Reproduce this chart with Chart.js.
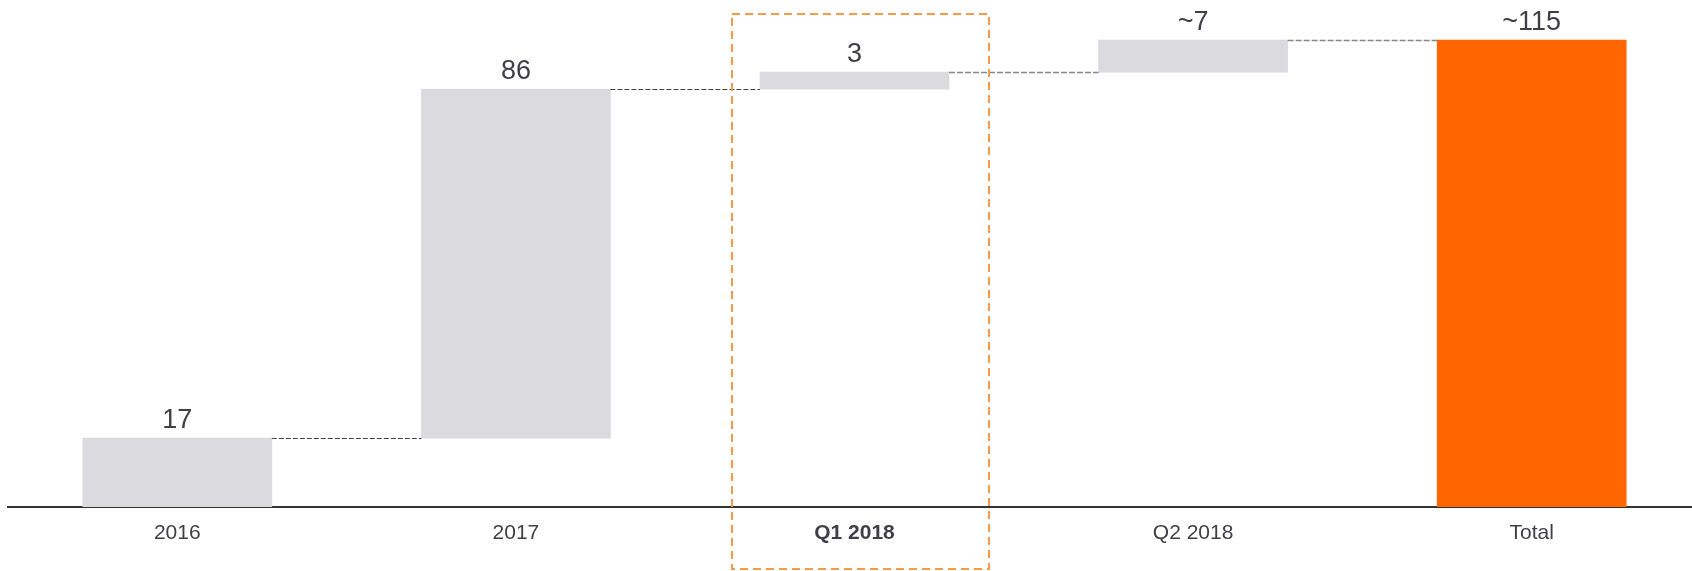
<!DOCTYPE html>
<html>
<head>
<meta charset="utf-8">
<script src="https://cdn.jsdelivr.net/npm/chart.js@4.4.1/dist/chart.umd.min.js"></script>
<style>
  html, body { margin: 0; padding: 0; background: #ffffff; overflow: hidden; }
  #wrap { position: relative; width: 1701px; height: 571px; }
</style>
</head>
<body>
<div id="wrap"><canvas id="c"></canvas></div>
<script>
// ---- data ----
const categories = ['2016', '2017', 'Q1 2018', 'Q2 2018', 'Total'];
const valueLabels = ['17', '86', '3', '~7', '~115'];
const steps = [17, 86, 4.2, 7.9];        // step heights as drawn
const totalValue = 115.1;                 // total bar as drawn
const highlightIndex = 2;                 // boxed category

// build floating bars
const floating = [];
let run = 0;
for (const s of steps) { floating.push([run, run + s]); run += s; }
floating.push([0, totalValue]);

const grey = '#dadadf';
const orange = '#ff6600';
const textColor = '#3f3f48';

const overlayPlugin = {
  id: 'overlay',
  afterDatasetsDraw(chart) {
    const ctx = chart.ctx;
    const meta = chart.getDatasetMeta(0);
    const ys = chart.scales.y;
    const xs = chart.scales.x;
    ctx.save();
    // connectors
    for (let i = 0; i < meta.data.length - 1; i++) {
      const a = meta.data[i], b = meta.data[i + 1];
      const yv = floating[i][1];
      const y = Math.round(ys.getPixelForValue(yv)) + 0.5;
      const x1 = a.x + a.width / 2;
      const x2 = b.x - b.width / 2;
      ctx.beginPath();
      if (i < 2) {
        ctx.strokeStyle = '#404040'; ctx.lineWidth = 1; ctx.setLineDash([5, 2]);
      } else {
        ctx.strokeStyle = '#888888'; ctx.lineWidth = 1.5; ctx.setLineDash([6, 2]);
      }
      ctx.moveTo(x1, y); ctx.lineTo(x2, y); ctx.stroke();
    }
    ctx.setLineDash([]);
    // value labels
    ctx.fillStyle = textColor;
    ctx.font = '27px "Liberation Sans", Arial, sans-serif';
    ctx.textAlign = 'center';
    ctx.textBaseline = 'alphabetic';
    meta.data.forEach((bar, i) => {
      const top = ys.getPixelForValue(floating[i][1]);
      ctx.fillText(valueLabels[i], bar.x, top - 10);
    });
    // highlight box
    const cx = xs.getPixelForValue(highlightIndex);
    ctx.strokeStyle = '#f59a48';
    ctx.lineWidth = 2;
    ctx.setLineDash([8, 5]);
    ctx.strokeRect(cx - 122.5, 14, 257, 555);
    ctx.restore();
  }
};

new Chart(document.getElementById('c'), {
  type: 'bar',
  data: {
    labels: categories,
    datasets: [{
      data: floating,
      backgroundColor: categories.map((c, i) => i === categories.length - 1 ? orange : grey),
      borderWidth: 0,
      borderSkipped: false,
      barThickness: 189,
      categoryPercentage: 1,
      barPercentage: 1
    }]
  },
  options: {
    responsive: true,
    maintainAspectRatio: false,
    animation: false,
    devicePixelRatio: 1,
    layout: { padding: { left: 8, right: 0, top: 0, bottom: 0 } },
    plugins: { legend: { display: false }, tooltip: { enabled: false } },
    scales: {
      y: { display: false, min: 0, max: 125 },
      x: {
        grid: { display: false, drawTicks: false },
        border: { display: true, color: '#333333', width: 2 },
        ticks: {
          color: textColor,
          padding: 14,
          font: (ctx) => ({
            family: '"Liberation Sans", Arial, sans-serif',
            size: 21,
            weight: ctx.index === highlightIndex ? 'bold' : 'normal'
          })
        },
        afterFit: (scale) => { scale.height = 64; }
      }
    }
  },
  plugins: [overlayPlugin]
});
</script>
</body>
</html>
